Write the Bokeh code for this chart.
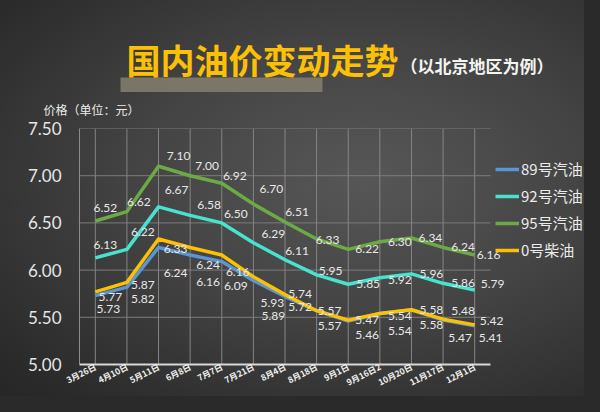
from bokeh.plotting import figure
from bokeh.layouts import column
from bokeh.models import (Range1d, FixedTicker, PrintfTickFormatter, Title,
                          Legend, LegendItem, Label, LabelSet, BoxAnnotation, ColumnDataSource)
from bokeh.core.properties import value
from bokeh.embed import file_html
from bokeh.resources import INLINE

# ---------------- data ----------------
dates = ["3月26日", "4月10日", "5月11日", "6月8日", "7月7日", "7月21日", "8月4日",
         "8月18日", "9月1日", "9月16日2", "10月20日", "11月17日", "12月1日"]
series_names = ["89号汽油", "92号汽油", "95号汽油", "0号柴油"]
p89 = [5.73, 5.82, 6.24, 6.16, 6.09, 5.89, 5.72, 5.57, 5.46, 5.54, 5.58, 5.47, 5.41]
p92 = [6.13, 6.22, 6.67, 6.58, 6.50, 6.29, 6.11, 5.95, 5.85, 5.92, 5.96, 5.86, 5.79]
p95 = [6.52, 6.62, 7.10, 7.00, 6.92, 6.70, 6.51, 6.33, 6.22, 6.30, 6.34, 6.24, 6.16]
p0 = [5.77, 5.87, 6.33, 6.24, 6.16, 5.93, 5.74, 5.57, 5.47, 5.54, 5.58, 5.48, 5.42]
y_ticks = [5.0, 5.5, 6.0, 6.5, 7.0, 7.5]

# ---------------- style / layout ----------------
colors = ["#5B95D2", "#48E3CF", "#6DAA45", "#FFC000"]
# label offsets in px (dx right, dy down)
off89 = [(13, 13), (16, 12), (17, 26), (18, 27), (14, 24), (20, 36), (15, 10), (13, 15),
         (19, 14), (20, 17), (20, 15), (17, 18), (16, 12)]
off92 = [(10, -13), (16, -17), (18, -17), (19, -10), (14, -9), (20, -9), (12, -9), (14, -4),
         (20, 0), (20, 2), (20, 0), (20, 0), (18, -6)]
off95 = [(10, -13), (12, -10), (20, -10), (17, -10), (13, -7), (18, -15), (12, -10), (11, 1),
         (19, 0), (20, 0), (19, 0), (20, 0), (14, 0)]
off0 = [(15, 5), (16, 3), (17, 10), (18, 18), (16, 17), (19, 26), (15, -1), (13, 0),
        (19, 0), (20, 2), (20, 0), (20, -8), (17, -4)]

CJK = "Noto Sans CJK SC"
NUM = "Lato"

W, H = 584, 396
TOP2 = 36         # top border of the main figure (holds the unit label)
Y_TOP_PX = 128    # page pixel of the top tick
HH = Y_TOP_PX - TOP2   # header height
H2 = H - HH       # main figure height
FL = 79           # frame left (px)
FB = 364          # expected frame bottom (page px)
PLOT_R = 490      # right end of plotting area
n = len(dates)
px_per_x = (PLOT_R - FL) / n
x_end = -0.5 + (W - FL) / px_per_x
FB2 = FB - HH
xs = list(range(n))

# ---------------- header (title area) ----------------
hdr = figure(width=W, height=HH, x_range=Range1d(0, W), y_range=Range1d(0, HH),
             output_backend="svg", toolbar_location=None,
             x_axis_type=None, y_axis_type=None,
             min_border_left=FL, min_border_right=0, min_border_top=0, min_border_bottom=0,
             background_fill_color=None, border_fill_color=None, outline_line_color=None)
hdr.xgrid.visible = False
hdr.ygrid.visible = False


def hx(X):
    return X - FL


def hy(Y):
    return HH - Y


hdr.add_layout(BoxAnnotation(left=hx(120), right=hx(322), top=hy(77), bottom=hy(HH),
                             left_units="screen", right_units="screen",
                             top_units="screen", bottom_units="screen",
                             fill_color="#85806f", fill_alpha=0.85, line_color=None))
hdr.add_layout(Label(x=hx(126), y=hy(59), x_units="screen", y_units="screen",
                     text="国内油价变动走势", text_font=CJK, text_font_style="bold",
                     text_font_size="34px", text_color="#FFC000",
                     text_align="left", text_baseline="middle"))
hdr.add_layout(Label(x=hx(400), y=hy(65), x_units="screen", y_units="screen",
                     text="（以北京地区为例）", text_font=CJK, text_font_style="bold",
                     text_font_size="17px", text_color="#f4f4f4",
                     text_align="left", text_baseline="middle"))

# ---------------- main chart ----------------
p = figure(width=W, height=H2,
           x_range=Range1d(-0.5, x_end), y_range=Range1d(y_ticks[0], y_ticks[-1]),
           output_backend="svg", toolbar_location=None,
           min_border_left=FL, min_border_right=0, min_border_top=TOP2,
           min_border_bottom=H2 - FB2,
           background_fill_color=None, border_fill_color=None, outline_line_color=None)
p.xgrid.visible = False
p.ygrid.visible = False

# unit label above the frame (side panel, so it may extend left of the frame)
p.add_layout(Title(text="价格（单位：元）", align="left", offset=43 - FL, standoff=17,
                   vertical_align="top",
                   text_font=CJK, text_font_style="normal", text_font_size="12px",
                   text_color="#ececec"), "above")

# grid lines limited to the plotting area
p.segment(x0=[-0.5] * (len(y_ticks) - 1), x1=[n - 0.5] * (len(y_ticks) - 1),
          y0=y_ticks[1:], y1=y_ticks[1:], line_color="#7c7c7c", line_width=1)
p.segment(x0=xs, x1=xs, y0=[y_ticks[0]] * n, y1=[y_ticks[-1]] * n,
          line_color="#858585", line_width=1)

# axes
p.yaxis.ticker = FixedTicker(ticks=y_ticks)
p.yaxis.formatter = PrintfTickFormatter(format="%.2f")
p.yaxis.major_tick_line_color = None
p.yaxis.minor_tick_line_color = None
p.yaxis.axis_line_color = "#8c8c8c"
p.yaxis.major_label_standoff = 12
p.yaxis.major_label_text_font = NUM
p.yaxis.major_label_text_font_size = "17px"
p.yaxis.major_label_text_color = "#e6e6e6"

p.xaxis.ticker = FixedTicker(ticks=xs)
p.xaxis.bounds = (-0.5, n - 0.5)
p.xaxis.major_label_overrides = {i: d for i, d in enumerate(dates)}
p.xaxis.axis_line_color = "#d8d8d8"
p.xaxis.axis_line_width = 2
p.xaxis.major_tick_line_color = None
p.xaxis.minor_tick_line_color = None
p.xaxis.major_label_orientation = 0.47
p.xaxis.major_label_standoff = -5
p.xaxis.major_label_text_font = CJK
p.xaxis.major_label_text_font_style = "bold"
p.xaxis.major_label_text_font_size = "8.5px"
p.xaxis.major_label_text_color = "#f0f0f0"

# lines
items = []
all_vals = [p89, p92, p95, p0]
all_offs = [off89, off92, off95, off0]
for name, vals, col in zip(series_names, all_vals, colors):
    r = p.line(x=xs, y=vals, line_color=col, line_width=3.5, line_join="round")
    items.append(LegendItem(label=name, renderers=[r]))

# data labels
for vals, offs in zip(all_vals, all_offs):
    src = ColumnDataSource(dict(x=xs, y=vals, t=[f"{v:.2f}" for v in vals],
                                dx=[o[0] for o in offs], dy=[-o[1] for o in offs]))
    p.add_layout(LabelSet(x="x", y="y", text="t", source=src, x_offset="dx", y_offset="dy",
                          text_align="center", text_baseline="middle",
                          text_font=value(NUM), text_font_size="12px", text_color="#e8e8e8"))

legend = Legend(items=items, location=(495 - FL, FB - 260), orientation="vertical",
                padding=0, margin=0, spacing=6, glyph_width=24, glyph_height=20,
                label_height=20, label_standoff=2,
                label_text_font=CJK, label_text_font_size="15px", label_text_color="#ececec",
                background_fill_alpha=0, border_line_color=None)
p.add_layout(legend)

page = column(hdr, p, spacing=0,
              styles={"background": "radial-gradient(ellipse at 62% 45%, #575757 0%, #434343 45%, #2d2d2d 85%, #262626 100%)",
                      "box-shadow": "0 0 0 16px #2a2a2a"})

open("out.html", "w").write(file_html(page, INLINE))
